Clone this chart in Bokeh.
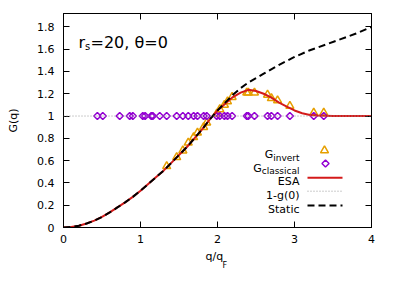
import numpy as np
from bokeh.plotting import figure
from bokeh.models import (Range1d, FixedTicker, LinearAxis, Label, Span,
                          CustomLabelingPolicy, Title)
from bokeh.embed import file_html
from bokeh.resources import INLINE

# ---------------- data ----------------
G_CLASSICAL_Q = [0.44, 0.51, 0.73, 0.86, 0.90, 1.03, 1.06, 1.14, 1.16, 1.25, 1.34,
                 1.47, 1.55, 1.62, 1.69, 1.74, 1.82, 1.86, 1.99, 2.03, 2.09, 2.13,
                 2.19, 2.38, 2.40, 2.48, 2.65, 2.70, 2.78, 2.94, 3.25, 3.38]
G_CLASSICAL = [1.0, 1.0, 1.0, 1.0, 1.0, 1.0, 1.0, 1.0, 1.0, 1.0, 1.0,
               1.0, 1.0, 1.0, 1.0, 1.0, 1.0, 1.0, 1.0, 1.0, 1.0, 1.0,
               1.0, 1.0, 1.0, 1.0, 1.0, 1.0, 1.0, 1.0, 1.0, 1.0]

G_INVERT_Q = [1.34, 1.47, 1.55, 1.62, 1.69, 1.74, 1.82, 1.86, 1.99, 2.03, 2.09,
              2.13, 2.19, 2.38, 2.40, 2.48, 2.65, 2.70, 2.78, 2.94, 3.25, 3.38]
G_INVERT = [0.55, 0.63, 0.69, 0.76, 0.81, 0.85, 0.90, 0.94, 1.02, 1.06, 1.10,
            1.13, 1.17, 1.21, 1.21, 1.21, 1.19, 1.16, 1.14, 1.09, 1.03, 1.03]

STATIC_Q = [0.0, 0.1, 0.2, 0.3, 0.4, 0.5, 0.6, 0.7, 0.8, 0.9, 1.0, 1.1, 1.2, 1.3,
            1.4, 1.5, 1.6, 1.7, 1.8, 1.9, 2.0, 2.1, 2.2, 2.3, 2.4, 2.5, 2.6, 2.8,
            3.0, 3.2, 3.4, 3.6, 3.8, 4.0]
STATIC_G = [0.0, 0.004, 0.016, 0.036, 0.062, 0.095, 0.135, 0.18, 0.225, 0.275,
            0.33, 0.39, 0.45, 0.51, 0.58, 0.65, 0.72, 0.80, 0.88, 0.97, 1.05,
            1.12, 1.19, 1.25, 1.30, 1.34, 1.38, 1.46, 1.53, 1.59, 1.64, 1.69,
            1.74, 1.80]

ESA_Q = [0.0, 0.1, 0.2, 0.3, 0.4, 0.5, 0.6, 0.7, 0.8, 0.9, 1.0, 1.1, 1.2, 1.3,
         1.4, 1.5, 1.6, 1.7, 1.8, 1.9, 2.0, 2.1, 2.2, 2.3, 2.4, 2.5, 2.6, 2.7,
         2.8, 2.9, 3.0, 3.1, 3.2, 3.3, 3.5, 4.0]
ESA_G = [0.0, 0.004, 0.016, 0.036, 0.062, 0.095, 0.135, 0.18, 0.225, 0.275,
         0.33, 0.39, 0.45, 0.51, 0.58, 0.65, 0.72, 0.80, 0.88, 0.97, 1.05,
         1.11, 1.17, 1.21, 1.235, 1.225, 1.20, 1.165, 1.12, 1.085, 1.05, 1.025,
         1.01, 1.004, 1.0, 1.0]

ONE_MINUS_G0 = 1.0

X_TICKS = [0, 1, 2, 3, 4]
X_TICK_LABELS = ["0", "1", "2", "3", "4"]
Y_TICKS = [0, 0.2, 0.4, 0.6, 0.8, 1.0, 1.2, 1.4, 1.6, 1.8]
Y_TICK_LABELS = ["0", "0.2", "0.4", "0.6", "0.8", "1", "1.2", "1.4", "1.6", "1.8"]

# ---------------- layout / style ----------------
FONT = "DejaVu Sans"
XMIN, XMAX, YMIN, YMAX = 0.0, 4.0, 0.0, 1.92
B_LEFT, B_RIGHT, B_TOP, B_BOTTOM = 63, 15, 13, 50
FW, FH = 308, 214
REF_FRAME_LEFT, REF_FRAME_BOTTOM = 64, 228   # frame position in the reference image
ORANGE = "#e69f00"
PURPLE = "#9400d3"
RED = "#d41a1a"


def dx(px):
    return XMIN + (px - REF_FRAME_LEFT) / FW * (XMAX - XMIN)


def dy(py):
    return YMIN + (REF_FRAME_BOTTOM - py) / FH * (YMAX - YMIN)


p = figure(width=B_LEFT + FW + B_RIGHT, height=B_TOP + FH + B_BOTTOM,
           x_range=Range1d(XMIN, XMAX), y_range=Range1d(YMIN, YMAX),
           output_backend="svg", toolbar_location=None,
           min_border_left=B_LEFT, min_border_right=B_RIGHT,
           min_border_top=B_TOP, min_border_bottom=B_BOTTOM)
p.background_fill_color = "white"
p.border_fill_color = "white"
p.outline_line_color = "black"
p.outline_line_width = 1
p.xgrid.visible = False
p.ygrid.visible = False

xa = p.xaxis[0]
ya = p.yaxis[0]
xa.ticker = FixedTicker(ticks=X_TICKS)
xa.major_label_overrides = dict(zip(X_TICKS, X_TICK_LABELS))
ya.ticker = FixedTicker(ticks=Y_TICKS)
ya.major_label_overrides = dict(zip(Y_TICKS, Y_TICK_LABELS))
for ax in (xa, ya):
    ax.major_tick_in = 6
    ax.major_tick_out = 0
    ax.minor_tick_line_color = None
    ax.axis_line_color = "black"
    ax.major_tick_line_color = "black"
    ax.major_label_text_font = FONT
    ax.major_label_text_font_size = "11px"
    ax.major_label_text_color = "black"
xa.major_label_standoff = 7
ya.major_label_standoff = 9
ya.axis_label = "G(q)"
ya.axis_label_text_font = FONT
ya.axis_label_text_font_size = "11px"
ya.axis_label_text_font_style = "normal"
ya.axis_label_text_color = "black"
ya.axis_label_standoff = 14

# mirror ticks (no labels)
top = LinearAxis(ticker=FixedTicker(ticks=X_TICKS), major_tick_in=6, major_tick_out=0,
                 minor_tick_line_color=None,
                 major_label_policy=CustomLabelingPolicy(code="return new Set()"),
                 major_label_text_font_size="1px",
                 major_label_standoff=0, axis_line_color="black")
right = LinearAxis(ticker=FixedTicker(ticks=Y_TICKS), major_tick_in=6, major_tick_out=0,
                   minor_tick_line_color=None,
                   major_label_policy=CustomLabelingPolicy(code="return new Set()"),
                   major_label_text_font_size="1px",
                   major_label_standoff=0, axis_line_color="black")
p.add_layout(top, "above")
p.add_layout(right, "right")

# x axis label "q/q_F" built from two titles below the axis
p.add_layout(Title(text="q/q", align="left", offset=142,
                   text_font=FONT, text_font_size="11px", text_font_style="normal",
                   text_color="black", standoff=4), "below")
p.add_layout(Title(text="F", align="left", offset=159,
                   text_font=FONT, text_font_size="8px", text_font_style="normal",
                   text_color="black", standoff=-11), "below")

# ---------------- data glyphs ----------------
p.scatter(G_INVERT_Q, G_INVERT, marker="triangle", size=8, fill_color=None,
          line_color=ORANGE, line_width=1.5)
p.scatter(G_CLASSICAL_Q, G_CLASSICAL, marker="square", angle=np.pi / 4, size=5,
          fill_color=None, line_color=PURPLE, line_width=1.5)
p.line(ESA_Q, ESA_G, line_color=RED, line_width=2)
p.add_layout(Span(location=ONE_MINUS_G0, dimension="width", line_color="#999999",
                  line_width=1, line_dash="1 2"))
p.line(STATIC_Q, STATIC_G, line_color="black", line_width=2, line_dash="7 4")

# ---------------- legend (manual, to allow subscripts) ----------------
p.scatter([dx(325)], [dy(151)], marker="triangle", size=8, fill_color=None,
          line_color=ORANGE, line_width=1.5)
p.scatter([dx(326)], [dy(164)], marker="square", angle=np.pi / 4, size=5,
          fill_color=None, line_color=PURPLE, line_width=1.5)
p.line([dx(308), dx(343)], [dy(178.3)] * 2, line_color=RED, line_width=2)
p.line([dx(308), dx(343)], [dy(191.7)] * 2, line_color="#999999", line_width=1,
       line_dash="1 2")
p.line([dx(308), dx(343)], [dy(206)] * 2, line_color="black", line_width=2,
       line_dash="7 4")


def lab(text, px, py, size, align):
    p.add_layout(Label(x=dx(px), y=dy(py), text=text, text_font=FONT,
                       text_font_size=f"{size}px", text_align=align,
                       text_baseline="alphabetic", text_color="black"))


lab("G", 273.7, 155, 11, "right")
lab("invert", 300, 158, 9, "right")
lab("G", 262.2, 168.5, 11, "right")
lab("classical", 300, 171.5, 9, "right")
lab("ESA", 300, 182.3, 11, "right")
lab("1-g(0)", 300, 195.7, 11, "right")
lab("Static", 300, 210, 11, "right")

# title inside plot
lab("r", 79, 42.5, 16, "left")
lab("s", 85.6, 46.5, 10, "left")
lab("=20, θ=0", 91, 42.5, 16, "left")

open("out.html", "w").write(file_html(p, INLINE))
